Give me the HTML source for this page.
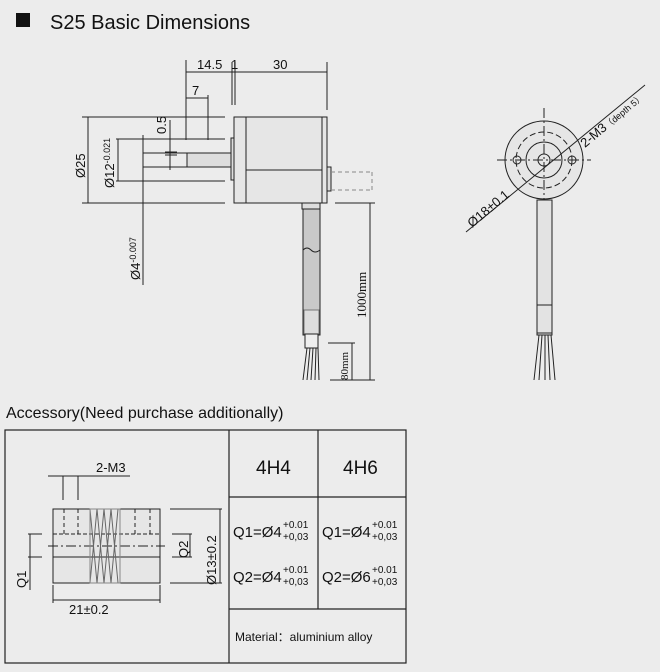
<!DOCTYPE html>
<html><head><meta charset="utf-8"><style>
body{margin:0;background:#ececec;}
svg{display:block;font-family:"Liberation Sans",Arial,sans-serif;}
</style></head><body>
<svg width="660" height="672" viewBox="0 0 660 672" xmlns="http://www.w3.org/2000/svg">
<rect width="660" height="672" fill="#ececec"/>
<rect x="16" y="13" width="14" height="14" fill="#111"/>
<text x="50" y="29" font-size="20" fill="#111">S25  Basic Dimensions</text>

<g stroke="#222" stroke-width="1" fill="none">
<line x1="186" y1="60" x2="186" y2="140"/>
<line x1="232" y1="62" x2="232" y2="105"/>
<line x1="235" y1="62" x2="235" y2="105"/>
<line x1="327" y1="62" x2="327" y2="110"/>
<line x1="186" y1="72" x2="327" y2="72"/>
<line x1="208" y1="95" x2="208" y2="140"/>
<line x1="186" y1="98" x2="208" y2="98"/>
<rect x="234" y="117" width="93" height="86" fill="#e6e6e6"/>
<line x1="246" y1="117" x2="246" y2="203"/>
<line x1="246" y1="170" x2="322" y2="170"/>
<line x1="322" y1="117" x2="322" y2="203"/>
<rect x="231" y="138" width="3" height="42" fill="#ddd"/>
<rect x="187" y="153" width="44" height="14" fill="#ddd"/>
<rect x="327" y="167" width="4" height="24" fill="#ddd"/>
<path d="M331 172 H372 M331 190 H372 M372 172 V190" stroke-dasharray="4 3" stroke="#888"/>
<rect x="302" y="203" width="18" height="6" fill="#ddd"/>
<rect x="303" y="209" width="17" height="126" fill="#c9c9c9"/>
<path d="M303 250 q4 -4 8 0 t9 0" />
<rect x="304" y="310" width="15" height="24" fill="#ddd" stroke="#777"/>
<rect x="305" y="334" width="13" height="14" fill="#eee"/>
<path d="M307 348 L303 380 M310 348 L307 380 M313 348 L311 380 M316 348 L315 380 M318 348 L319 380"/>
<line x1="82" y1="117" x2="225" y2="117"/>
<line x1="82" y1="203" x2="225" y2="203"/>
<line x1="88" y1="117" x2="88" y2="203"/>
<line x1="116" y1="139" x2="225" y2="139"/>
<line x1="116" y1="181" x2="225" y2="181"/>
<line x1="118" y1="139" x2="118" y2="181"/>
<line x1="143" y1="135" x2="143" y2="285"/>
<line x1="143" y1="153" x2="187" y2="153"/>
<line x1="143" y1="167" x2="187" y2="167"/>
<line x1="170" y1="120" x2="170" y2="170"/>
<line x1="165" y1="152" x2="177" y2="152"/>
<line x1="165" y1="155" x2="177" y2="155"/>
<line x1="335" y1="203" x2="375" y2="203"/>
<line x1="370" y1="203" x2="370" y2="380"/>
<line x1="330" y1="380" x2="375" y2="380"/>
<line x1="328" y1="343" x2="355" y2="343"/>
<line x1="352" y1="343" x2="352" y2="380"/>
</g>
<g font-size="13" fill="#111">
<text x="197" y="69">14.5</text><text x="231" y="69">1</text><text x="273" y="69">30</text>
<text x="192" y="95">7</text>
<text transform="translate(166,134) rotate(-90)">0.5</text>
<text transform="translate(85,178) rotate(-90)">Ø25</text>
<text transform="translate(114,188) rotate(-90)">Ø12<tspan font-size="9" dy="-4">-0.021</tspan></text>
<text transform="translate(140,280) rotate(-90)">Ø4<tspan font-size="9" dy="-4">-0.007</tspan></text>
<text transform="translate(366,318) rotate(-90)" font-family="Liberation Serif">1000mm</text>
<text transform="translate(348,380) rotate(-90)" font-family="Liberation Serif" font-size="11">80mm</text>
</g>

<g stroke="#222" stroke-width="1" fill="none">
<circle cx="544" cy="160" r="39" fill="#e6e6e6"/>
<circle cx="544" cy="160" r="28" stroke-dasharray="6 3"/>
<circle cx="544" cy="160" r="18"/>
<circle cx="544" cy="160" r="6"/>
<circle cx="517" cy="160" r="4"/>
<circle cx="572" cy="160" r="4"/>
<line x1="497" y1="160" x2="591" y2="160" stroke-dasharray="10 3 2 3"/>
<line x1="544" y1="108" x2="544" y2="200" stroke-dasharray="10 3 2 3"/>
<line x1="466" y1="232" x2="645" y2="85"/>
<rect x="537" y="200" width="15" height="135" fill="#e3e3e3"/>
<rect x="537" y="305" width="15" height="28"/>
<path d="M539 335 L534 380 M542 335 L539 380 M545 335 L545 380 M548 335 L550 380 M551 335 L555 380"/>
</g>
<g font-size="13" fill="#111">
<text transform="translate(472,228) rotate(-40)">Ø18±0.1</text>
<text transform="translate(585,148) rotate(-40)">2-M3<tspan font-size="9">（depth 5）</tspan></text>
</g>

<text x="6" y="418" font-size="16" fill="#111">Accessory(Need purchase additionally)</text>
<g stroke="#222" stroke-width="1.2" fill="none">
<rect x="5" y="430" width="401" height="233"/>
<line x1="229" y1="430" x2="229" y2="663"/>
<line x1="318" y1="430" x2="318" y2="609"/>
<line x1="229" y1="497" x2="406" y2="497"/>
<line x1="229" y1="609" x2="406" y2="609"/>
</g>
<g stroke="#222" stroke-width="1" fill="none">
<rect x="53" y="509" width="107" height="74" fill="#e6e6e6"/>
<line x1="53" y1="534" x2="160" y2="534" stroke-dasharray="4 2"/>
<line x1="53" y1="557" x2="160" y2="557"/>
<line x1="48" y1="546" x2="165" y2="546" stroke-dasharray="10 3 2 3"/>
<path d="M64 509 V534 M78 509 V534 M135 509 V534 M150 509 V534" stroke-dasharray="4 3"/>
<path d="M90 509 L97 583 M97 509 L104 583 M104 509 L111 583 M111 509 L118 583 M90 583 L97 509 M97 583 L104 509 M104 583 L111 509 M111 583 L118 509" stroke="#666"/>
<rect x="90" y="509" width="30" height="74" fill="none" stroke="#888"/>
<path d="M48 476 H130 M63 476 V500 M78 476 V500"/>
<path d="M28 534 H42 M28 557 H42 M30 534 V590"/>
<path d="M170 509 H222 M170 583 H222 M220 509 V583"/>
<path d="M172 534 H192 M172 557 H192 M190 534 V557"/>
<path d="M53 585 V603 M160 585 V603 M53 600 H160"/>
</g>
<g font-size="13" fill="#111">
<text x="96" y="472">2-M3</text>
<text x="69" y="614">21±0.2</text>
<text transform="translate(26,588) rotate(-90)">Q1</text>
<text transform="translate(188,558) rotate(-90)">Q2</text>
<text transform="translate(216,585) rotate(-90)">Ø13±0.2</text>
</g>
<g fill="#111">
<text x="256" y="474" font-size="19">4H4</text>
<text x="343" y="474" font-size="19">4H6</text>
<g font-size="15">
<text x="233" y="537">Q1=Ø4</text><text x="233" y="582">Q2=Ø4</text>
<text x="322" y="537">Q1=Ø4</text><text x="322" y="582">Q2=Ø6</text>
</g>
<g font-size="10">
<text x="283" y="528">+0.01</text><text x="283" y="540">+0,03</text>
<text x="283" y="573">+0.01</text><text x="283" y="585">+0,03</text>
<text x="372" y="528">+0.01</text><text x="372" y="540">+0,03</text>
<text x="372" y="573">+0.01</text><text x="372" y="585">+0,03</text>
</g>
<text x="235" y="641" font-size="12">Material：aluminium alloy</text>
</g>
</svg>
</body></html>
